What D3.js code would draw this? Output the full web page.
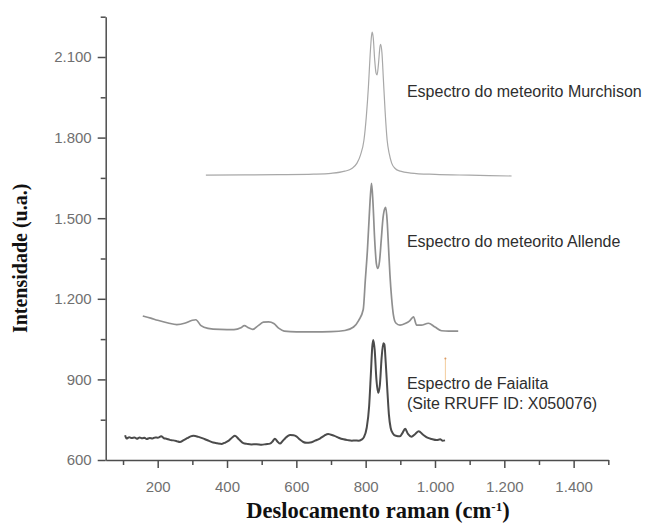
<!DOCTYPE html>
<html lang="pt">
<head>
<meta charset="UTF-8">
<title>Espectros Raman</title>
<script src="https://cdnjs.cloudflare.com/ajax/libs/d3/7.8.5/d3.min.js"></script>
<style>
  body { margin: 0; background: #fff; }
  svg { display: block; }
  .tick text { font-family: "Liberation Sans", Arial, sans-serif; font-size: 15px; fill: #707070; }
  .axis path, .axis line { stroke: #4d4d4d; stroke-width: 1.5; }
  .axis-title { font-family: "Liberation Serif", "DejaVu Serif", serif; font-weight: bold; fill: #111; }
  .note { font-family: "Liberation Sans", Arial, sans-serif; font-size: 16px; fill: #2e2e2e; }
</style>
</head>
<body>
<div id="chart"></div>
<script>
// [deslocamento raman (cm-1), intensidade (u.a.)]
const murchison = [
  [339,1660],[450,1661],[550,1662],[650,1664],[700,1667],[740,1675],[760,1685],[775,1705],
  [785,1735],[795,1790],[802,1880],[808,1990],[813,2110],[817,2180],[819,2193],[822,2170],
  [826,2090],[830,2040],[833,2033],[837,2075],[841,2135],[843,2147],[847,2115],[851,2020],
  [856,1900],[862,1790],[868,1740],[875,1705],[885,1685],[900,1675],[930,1668],[1000,1663],
  [1100,1660],[1221,1657]
];
const allende = [
  [157,1136],[180,1128],[200,1120],[230,1110],[255,1104],[280,1110],[300,1120],[310,1122],
  [325,1100],[345,1090],[380,1086],[420,1085],[440,1092],[450,1100],[462,1092],[474,1086],
  [490,1100],[505,1113],[520,1114],[535,1108],[550,1090],[565,1080],[600,1077],[650,1077],
  [700,1078],[740,1082],[765,1095],[780,1120],[793,1160],[799,1270],[805,1380],[810,1500],
  [814,1590],[817,1630],[821,1560],[826,1420],[831,1330],[835,1313],[840,1340],[845,1420],
  [850,1500],[855,1535],[858,1540],[862,1490],[866,1390],[870,1290],[875,1200],[880,1140],
  [887,1110],[899,1102],[914,1108],[927,1118],[938,1133],[947,1102],[960,1102],[981,1109],
  [1000,1095],[1019,1081],[1040,1080],[1067,1080]
];
const faialita = [
  [106,692],[110,680],[118,685],[125,682],[133,684],[140,679],[148,684],[155,681],[162,683],
  [168,678],[177,682],[185,680],[193,684],[200,683],[210,688],[218,681],[225,679],[235,675],
  [245,673],[255,670],[264,667],[275,674],[285,681],[295,688],[303,690],[318,686],[335,678],
  [348,671],[360,665],[372,662],[385,660],[395,665],[405,672],[415,684],[423,690],[435,676],
  [447,663],[458,660],[470,658],[485,659],[500,657],[512,659],[524,661],[532,670],[538,679],
  [546,668],[553,661],[560,670],[568,681],[576,690],[582,693],[592,692],[600,688],[610,676],
  [620,667],[630,664],[640,665],[654,672],[668,680],[680,690],[692,697],[700,694],[710,690],
  [722,683],[736,677],[748,674],[760,672],[770,673],[779,672],[788,676],[795,685],[803,720],
  [810,800],[815,920],[819,1020],[822,1047],[826,1010],[831,900],[836,850],[841,880],[846,980],
  [851,1035],[854,1030],[858,960],[863,850],[867,770],[872,720],[878,700],[887,690],[899,688],
  [906,700],[914,716],[922,697],[932,687],[943,697],[953,707],[965,695],[978,683],[990,678],
  [1005,674],[1015,677],[1022,672],[1029,673]
];

const xMajorTicks = [200, 400, 600, 800, 1000, 1200, 1400];
const xMinorTicks = [100, 300, 500, 700, 900, 1100, 1300, 1500];
const yMajorTicks = [600, 900, 1200, 1500, 1800, 2100];
const yMinorTicks = [750, 1050, 1350, 1650, 1950, 2250];

const notes = [
  { lines: ["Espectro do meteorito Murchison"], x: 919, y: 1950 },
  { lines: ["Espectro do meteorito Allende"], x: 919, y: 1391 },
  { lines: ["Espectro de Faialita", "(Site RRUFF ID: X050076)"], x: 919, y: 864 }
];

const W = 663, H = 529;
const svg = d3.select("#chart").append("svg").attr("width", W).attr("height", H);

const x = d3.scaleLinear().domain([50, 1500]).range([105.7, 608.3]);
const y = d3.scaleLinear().domain([600, 2250]).range([460, 16.7]);

const ptBR = d3.formatLocale({ decimal: ",", thousands: ".", grouping: [3], currency: ["", ""] });
const fmt = ptBR.format(",d");

// eixos
svg.append("g").attr("class", "axis").attr("transform", `translate(0,${y(600)})`)
  .call(d3.axisBottom(x).tickValues(xMajorTicks).tickSize(8).tickSizeOuter(0).tickPadding(13).tickFormat(fmt));
svg.append("g").attr("class", "axis").attr("transform", `translate(0,${y(600)})`)
  .call(d3.axisBottom(x).tickValues(xMinorTicks).tickSize(5).tickFormat(""))
  .select(".domain").remove();

svg.append("g").attr("class", "axis").attr("transform", `translate(${x(50)},0)`)
  .call(d3.axisLeft(y).tickValues(yMajorTicks).tickSize(8).tickSizeOuter(0).tickPadding(6).tickFormat(fmt));
svg.append("g").attr("class", "axis").attr("transform", `translate(${x(50)},0)`)
  .call(d3.axisLeft(y).tickValues(yMinorTicks).tickSize(5).tickFormat(""))
  .select(".domain").remove();

// espectros
const line = d3.line().x(d => x(d[0])).y(d => y(d[1])).curve(d3.curveMonotoneX);
const series = [
  { data: murchison, color: "#a8a8a8", width: 1.2 },
  { data: allende, color: "#8f8f8f", width: 1.7 },
  { data: faialita, color: "#4b4b4b", width: 2 }
];
svg.selectAll(".spec").data(series).enter().append("path")
  .attr("class", "spec")
  .attr("fill", "none")
  .attr("stroke", d => d.color)
  .attr("stroke-width", d => d.width)
  .attr("stroke-linejoin", "round")
  .attr("d", d => line(d.data));

// pequena marca laranja
svg.append("line")
  .attr("x1", x(1030)).attr("x2", x(1030)).attr("y1", y(980)).attr("y2", y(898))
  .attr("stroke", "#f3cc9c").attr("stroke-width", 1);
svg.append("circle").attr("cx", x(1030)).attr("cy", y(978)).attr("r", 1)
  .attr("fill", "#d99a64");

// legendas
notes.forEach(n => {
  const t = svg.append("text").attr("class", "note").attr("x", x(n.x)).attr("y", y(n.y));
  n.lines.forEach((s, i) => {
    t.append("tspan").attr("x", x(n.x)).attr("dy", i === 0 ? 0 : 20).text(s);
  });
});

// títulos
svg.append("text").attr("class", "axis-title")
  .attr("transform", `translate(27,${(y(600) + y(2250)) / 2 + 20}) rotate(-90)`)
  .attr("text-anchor", "middle").style("font-size", "20px")
  .text("Intensidade (u.a.)");

const xt = svg.append("text").attr("class", "axis-title")
  .attr("x", 378).attr("y", 518).attr("text-anchor", "middle").style("font-size", "22.5px");
xt.append("tspan").text("Deslocamento raman (cm");
xt.append("tspan").attr("baseline-shift", "super").style("font-size", "13px").text("-1");
xt.append("tspan").text(")");
</script>
</body>
</html>
